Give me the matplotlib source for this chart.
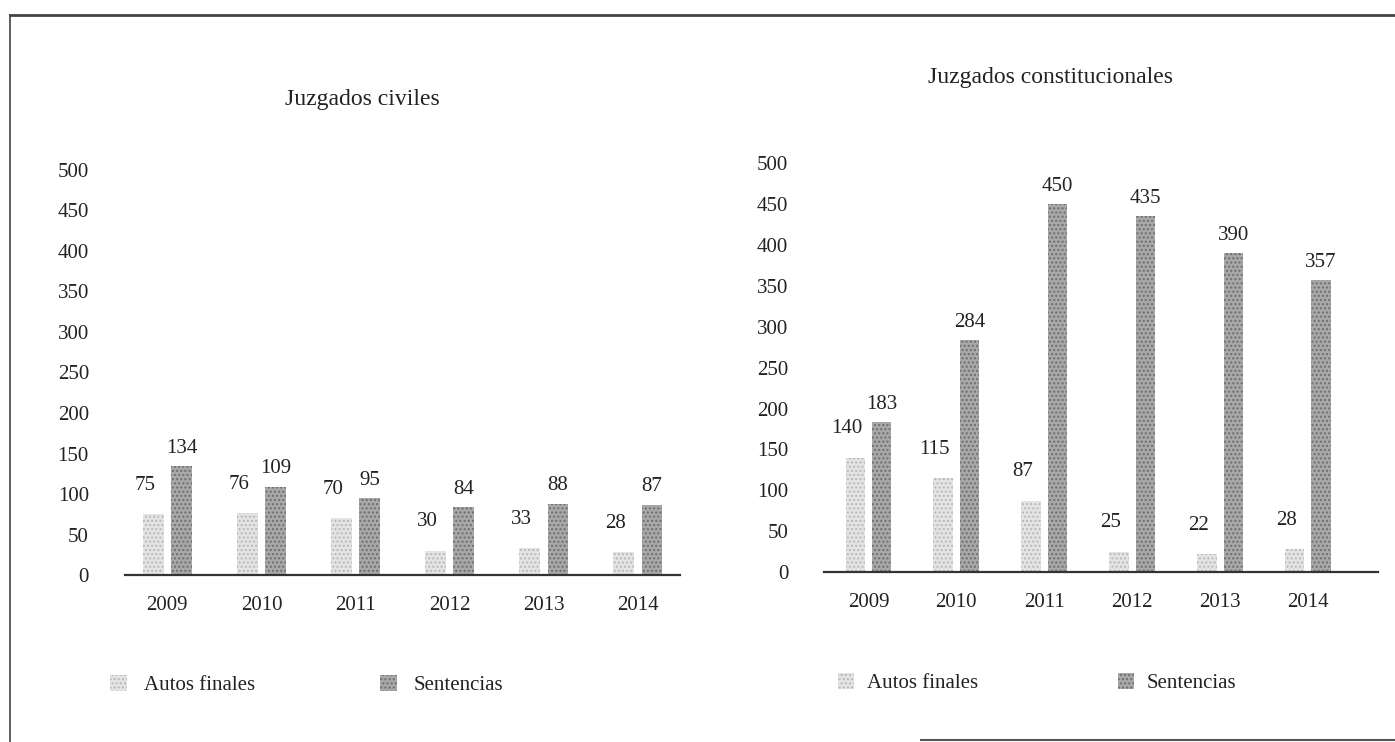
import numpy as np
import matplotlib.pyplot as plt
from matplotlib.lines import Line2D
from matplotlib.patches import Patch

plt.rcParams['font.family'] = ['Liberation Serif', 'DejaVu Serif']
plt.rcParams['hatch.linewidth'] = 1.0

anios = ['2009', '2010', '2011', '2012', '2013', '2014']
civiles_autos = [75, 76, 70, 30, 33, 28]
civiles_sentencias = [134, 109, 95, 84, 88, 87]
const_autos = [140, 115, 87, 25, 22, 28]
const_sentencias = [183, 284, 450, 435, 390, 357]

color_autos = '#e4e4e4'
hatch_autos = '#b8b8b8'
color_sent = '#a8a8a8'
hatch_sent = '#6e6e6e'
texto = '#222222'


def dibujar(ax, autos, sentencias, xlim):
    x = np.arange(len(anios))
    ancho = 0.22
    ax.bar(x - 0.15, autos, ancho, color=color_autos, edgecolor=hatch_autos,
           hatch='....', linewidth=0)
    ax.bar(x + 0.15, sentencias, ancho, color=color_sent, edgecolor=hatch_sent,
           hatch='....', linewidth=0)
    for xi, v in zip(x, autos):
        ax.annotate(str(v), (xi - 0.15, v), xytext=(-6, 14), textcoords='offset points',
                    ha='center', va='bottom', fontsize=15, color=texto)
    for xi, v in zip(x, sentencias):
        ax.annotate(str(v), (xi + 0.15, v), xytext=(0, 6), textcoords='offset points',
                    ha='center', va='bottom', fontsize=15, color=texto)
    ax.set_ylim(0, 500)
    ax.set_yticks(range(0, 501, 50))
    ax.set_xlim(*xlim)
    ax.set_xticks(x)
    ax.set_xticklabels(anios)
    ax.tick_params(length=0, labelsize=15, colors=texto)
    ax.tick_params(axis='x', pad=15)
    ax.tick_params(axis='y', pad=26)
    for s in ['top', 'right', 'left']:
        ax.spines[s].set_visible(False)
    ax.spines['bottom'].set_color('#333333')
    ax.spines['bottom'].set_linewidth(1.6)


fig = plt.figure(figsize=(13.95, 7.42), dpi=100)
ax1 = fig.add_axes([0.0896, 0.225, 0.398, 0.546])
ax2 = fig.add_axes([0.591, 0.229, 0.397, 0.551])

dibujar(ax1, civiles_autos, civiles_sentencias, (-0.45, 5.45))
dibujar(ax2, const_autos, const_sentencias, (-0.5, 5.8))

fig.text(362 / 1395, 1 - 100 / 742, 'Juzgados civiles', fontsize=17, color=texto,
         ha='center', va='center')
fig.text(1050 / 1395, 1 - 77 / 742, 'Juzgados constitucionales', fontsize=17, color=texto,
         ha='center', va='center')

handles = [Patch(facecolor=color_autos, edgecolor=hatch_autos, hatch='....', linewidth=0),
           Patch(facecolor=color_sent, edgecolor=hatch_sent, hatch='....', linewidth=0)]
labels = ['Autos finales', 'Sentencias']
ax1.legend(handles, labels, ncol=2, frameon=False, fontsize=15, loc='upper left',
           bbox_to_anchor=(-0.06, -0.2), columnspacing=6, handlelength=0.8,
           handleheight=0.8, handletextpad=0.8, labelcolor=texto)
ax2.legend(handles, labels, ncol=2, frameon=False, fontsize=15, loc='upper left',
           bbox_to_anchor=(-0.01, -0.2), columnspacing=6.7, handlelength=0.8,
           handleheight=0.8, handletextpad=0.6, labelcolor=texto)

# marco del recorte
fig.add_artist(Line2D([0.007, 1.0], [0.98, 0.98], color='#444444', lw=2))
fig.add_artist(Line2D([0.007, 0.007], [0.0, 0.98], color='#444444', lw=1.2))
fig.add_artist(Line2D([0.66, 1.0], [0.003, 0.003], color='#555555', lw=1.5))

fig.savefig('out.png', dpi=100)
